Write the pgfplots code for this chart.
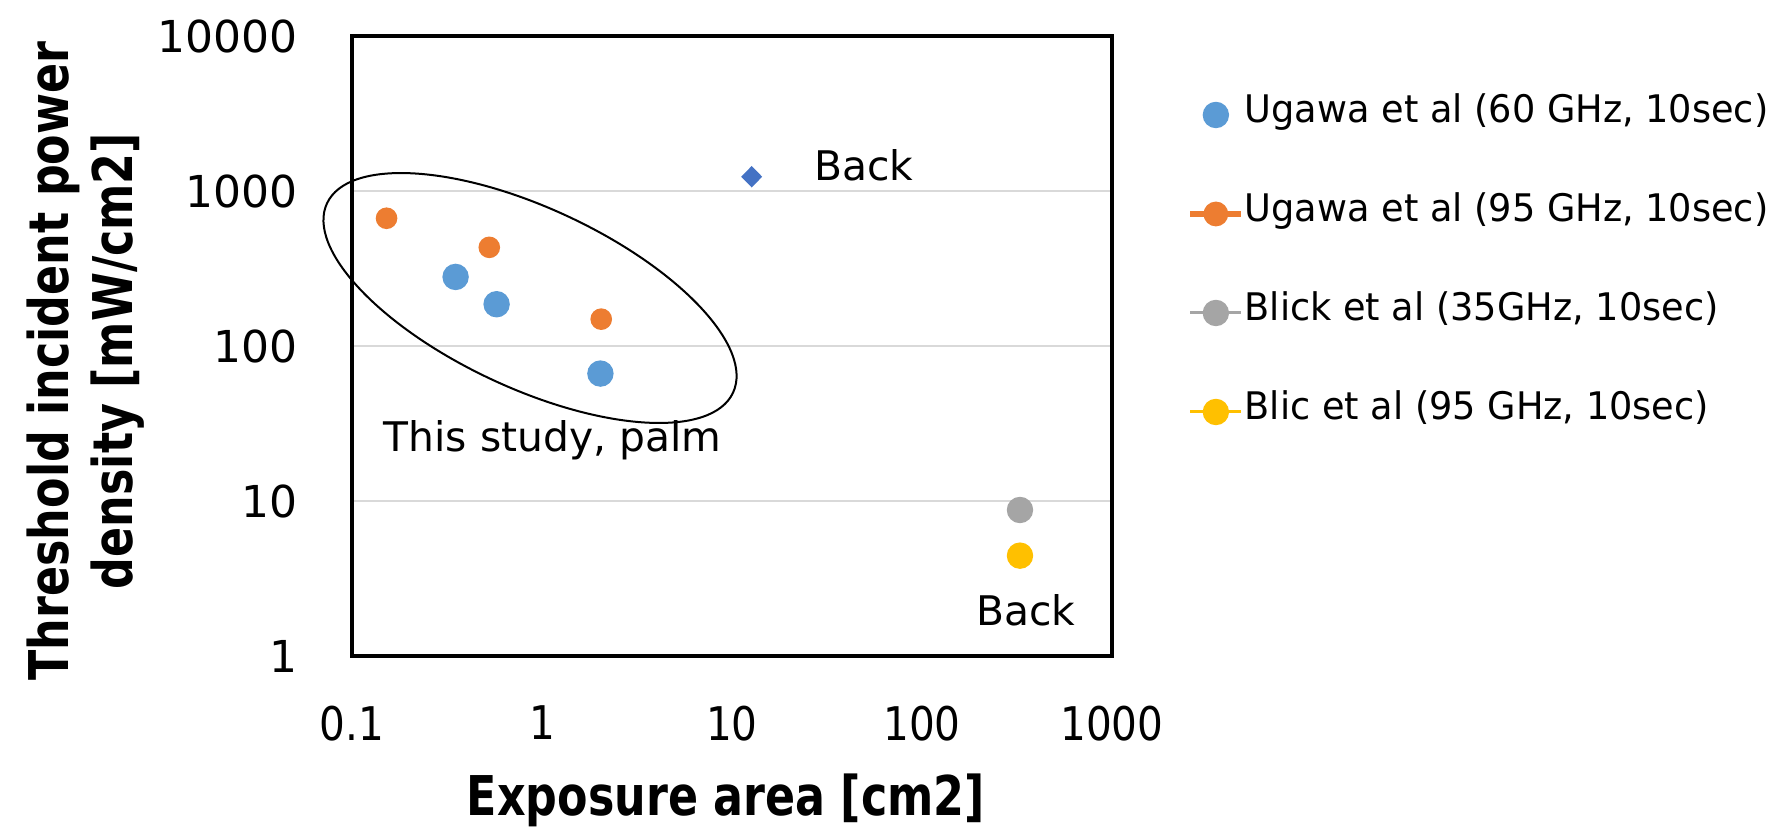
\documentclass[border=0pt]{standalone}
\usepackage{fontspec}
\setmainfont{DejaVu Sans}
\newfontfamily\xtickfont[FakeStretch=0.874]{DejaVu Sans}
\newfontfamily\labfont[FakeStretch=0.81]{DejaVu Sans}
\newfontfamily\legfont[FakeStretch=0.965]{DejaVu Sans}
\usepackage{pgfplots}
\pgfplotsset{compat=1.18}
\usetikzlibrary{shapes.geometric}
\definecolor{cBlue}{HTML}{5B9BD5}
\definecolor{cOrange}{HTML}{ED7D31}
\definecolor{cGray}{HTML}{A5A5A5}
\definecolor{cYellow}{HTML}{FFC000}
\definecolor{cDark}{HTML}{4472C4}
\definecolor{gridgray}{HTML}{D9D9D9}
\begin{document}
\begin{tikzpicture}
\path[use as bounding box] (0,0) rectangle (446.5pt,208.75pt);
\begin{axis}[
  at={(88pt,44.75pt)}, anchor=south west,
  scale only axis, width=190pt, height=155pt,
  xmode=log, ymode=log,
  xmin=0.1, xmax=1000, ymin=1, ymax=10000,
  xtick={0.1,1,10,100,1000}, xticklabels={0.1,1,10,100,1000},
  ytick={1,10,100,1000,10000}, yticklabels={1,10,100,1000,10000},
  xminorticks=false, yminorticks=false,
  major tick length=0pt, minor tick length=0pt,
  tick style={draw=none},
  ymajorgrids, grid style={draw=gridgray, line width=0.5pt},
  axis line style={black, line width=0.9pt},
  xticklabel style={font=\xtickfont\fontsize{11.6}{12}\selectfont, anchor=north, inner sep=0pt, yshift=-12.25pt},
  yticklabel style={font=\fontsize{11}{12}\selectfont, anchor=east, inner sep=0pt, xshift=-13.5pt},
  clip=false,
  legend style={at={(1.0987,0.8984)}, anchor=north west, draw=none, fill=none,
    inner sep=0pt, outer sep=0pt, row sep=16.75pt, column sep=0pt,
    font=\legfont\fontsize{9.5}{10}\selectfont,
    cells={anchor=west}, nodes={inner sep=0pt, text height=6pt, text depth=2pt}},
]
\addplot[only marks, mark=*, mark size=3.1pt, mark options={draw=cBlue, fill=cBlue},
  legend image code/.code={\path[draw=none,fill=none] (0pt,0pt) -- (12.75pt,0pt); \fill[cBlue] (6.375pt,0pt) circle (3.1pt);}]
  coordinates {(0.351,279) (0.577,186) (2.03,66.4)};
\addlegendentry{Ugawa et al (60 GHz, 10sec)}
\addplot[only marks, mark=*, mark size=2.5pt, mark options={draw=cOrange, fill=cOrange},
  legend image code/.code={\draw[cOrange, line width=1.7pt] (0pt,0pt) -- (12.75pt,0pt); \fill[cOrange] (6.375pt,0pt) circle (2.9pt);}]
  coordinates {(0.152,667) (0.528,433) (2.05,149)};
\addlegendentry{Ugawa et al (95 GHz, 10sec)}
\addplot[only marks, mark=*, mark size=3.1pt, mark options={draw=cGray, fill=cGray},
  legend image code/.code={\draw[cGray, line width=0.75pt] (0pt,0pt) -- (12.75pt,0pt); \fill[cGray] (6.375pt,0pt) circle (3.1pt);}]
  coordinates {(328,8.75)};
\addlegendentry{Blick et al (35GHz, 10sec)}
\addplot[only marks, mark=*, mark size=3.1pt, mark options={draw=cYellow, fill=cYellow},
  legend image code/.code={\draw[cYellow, line width=0.75pt] (0pt,0pt) -- (12.75pt,0pt); \fill[cYellow] (6.375pt,0pt) circle (3.1pt);}]
  coordinates {(328,4.44)};
\addlegendentry{Blic et al (95 GHz, 10sec)}
\addplot[only marks, mark=diamond*, mark size=2.4pt, mark options={draw=cDark, fill=cDark, xscale=1.3}, forget plot]
  coordinates {(12.7,1236)};
\node[draw, ellipse, rotate=-25, minimum width=112pt, minimum height=45pt, inner sep=0pt, line width=0.5pt] at (axis cs:0.865,204) {};
\node[anchor=base, font=\fontsize{10.2}{12}\selectfont, inner sep=0pt] at (axis cs:49.5,1161) {Back};
\node[anchor=base, font=\fontsize{10.2}{12}\selectfont, inner sep=0pt] at (axis cs:1.136,20.8) {This study, palm};
\node[anchor=base, font=\fontsize{10.2}{12}\selectfont, inner sep=0pt] at (axis cs:351,1.562) {Back};
\end{axis}
\node[rotate=90, anchor=base, inner sep=0pt, font=\labfont\bfseries\fontsize{13.7}{16}\selectfont] at (17pt,118.5pt) {Threshold incident power};
\node[rotate=90, anchor=base, inner sep=0pt, font=\labfont\bfseries\fontsize{13.7}{16}\selectfont] at (33pt,118.5pt) {density [mW/cm2]};
\node[anchor=base, inner sep=0pt, font=\labfont\bfseries\fontsize{13.7}{16}\selectfont] at (181.5pt,5pt) {Exposure area [cm2]};
\end{tikzpicture}
\end{document}
